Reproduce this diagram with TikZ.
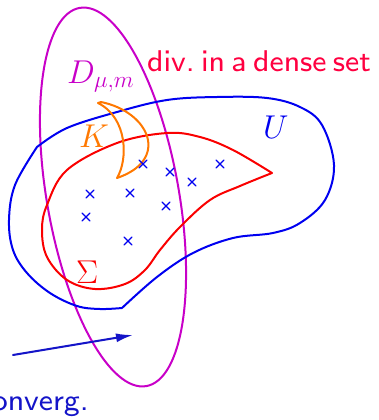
\RequirePackage{fix-cm}
\documentclass[tikz,border=0pt]{standalone}
\usepackage{amsmath}
\usepackage{amssymb}
\usepackage{xcolor}
\usepackage{tikz}
\usetikzlibrary{arrows.meta}
\definecolor{dmag}{RGB}{200,0,200}
\definecolor{uset}{RGB}{0,0,240}
\definecolor{sig}{RGB}{250,0,0}
\definecolor{kset}{RGB}{255,120,0}
\definecolor{crim}{RGB}{255,0,64}
\definecolor{navy}{RGB}{20,20,200}
\font\bigsans=cmss8 at 30pt
\newcommand{\tightsp}{\frenchspacing\spaceskip=0.2em plus 0.05em\relax}

\begin{document}
\begin{tikzpicture}[x=1pt,y=-1pt,line cap=round,line join=round,
    curve/.style={line width=2pt},
    xmark/.style={uset,line width=1.3pt},
    lab/.style={inner sep=0pt,anchor=base west,font=\fontsize{33}{38}\selectfont},
    txt/.style={lab,font=\bigsans\tightsp}]
  \clip (0,0) rectangle (378,420);
  \useasboundingbox (0,0) rectangle (378,420);
  % the disc D
  \draw[curve,dmag,rotate around={10:(113,197)}] (113,197) ellipse [x radius=66,y radius=192];
  % the open set U
  \draw[curve,uset] plot[smooth,tension=0.6] coordinates {(122,308) (157,277) (193,253) (233,238)
      (273,233) (300,223) (325,200) (334,165) (322,125) (300,107) (267,98) (217,97) (167,100)
      (117,112) (67,128) (37,147)}
    plot[smooth,tension=0.6] coordinates {(37,147) (15,185) (9,220) (13,250) (27,273) (50,293)
      (77,306) (100,309) (122,308)};
  % Sigma
  \draw[curve,sig] plot[smooth,tension=0.6] coordinates {(272,173) (233,150) (200,137) (167,133)
      (117,143) (67,170) (47,205) (42,230) (47,257) (67,280) (95,289) (125,284) (145,270)
      (160,250) (180,227) (210,200) (240,186) (272,173)};
  % the compact K
  \draw[curve,kset] (98,103) -- (101,102) .. controls (150,112) and (170,160) .. (117,178)
    .. controls (128,160) and (128,118) .. (98,103);
  % points of divergence
  \foreach \x/\y in {143/164,170/172,192/182,220/164,90/194,130/193,166/206,86/217,128/241}
    \draw[xmark] (\x-4,\y-4) -- (\x+4,\y+4) (\x-4,\y+4) -- (\x+4,\y-4);
  % convergence arrow
  \coordinate (arrS) at (13,355);
  \coordinate (arrE) at (133,335);
  \draw[navy,line width=2pt,-{Latex[length=17pt,width=9pt]}] (arrS) -- (arrE);
  % labels
  \node[lab,dmag] (dlab) at (67,83) {$D_{\mu,m}$};
  \node[lab,kset] (klab) at (79,147) {$K$};
  \node[lab,uset] (ulab) at (263,138) {$U$};
  \node[lab,sig] (slab) at (76,283) {$\Sigma$};
  \node[txt,crim] (divlab) at (147,71) {div. in a dense set};
  \node[txt,navy,anchor=base east] (convlab) at (89,410) {converg.};
\end{tikzpicture}
\end{document}
